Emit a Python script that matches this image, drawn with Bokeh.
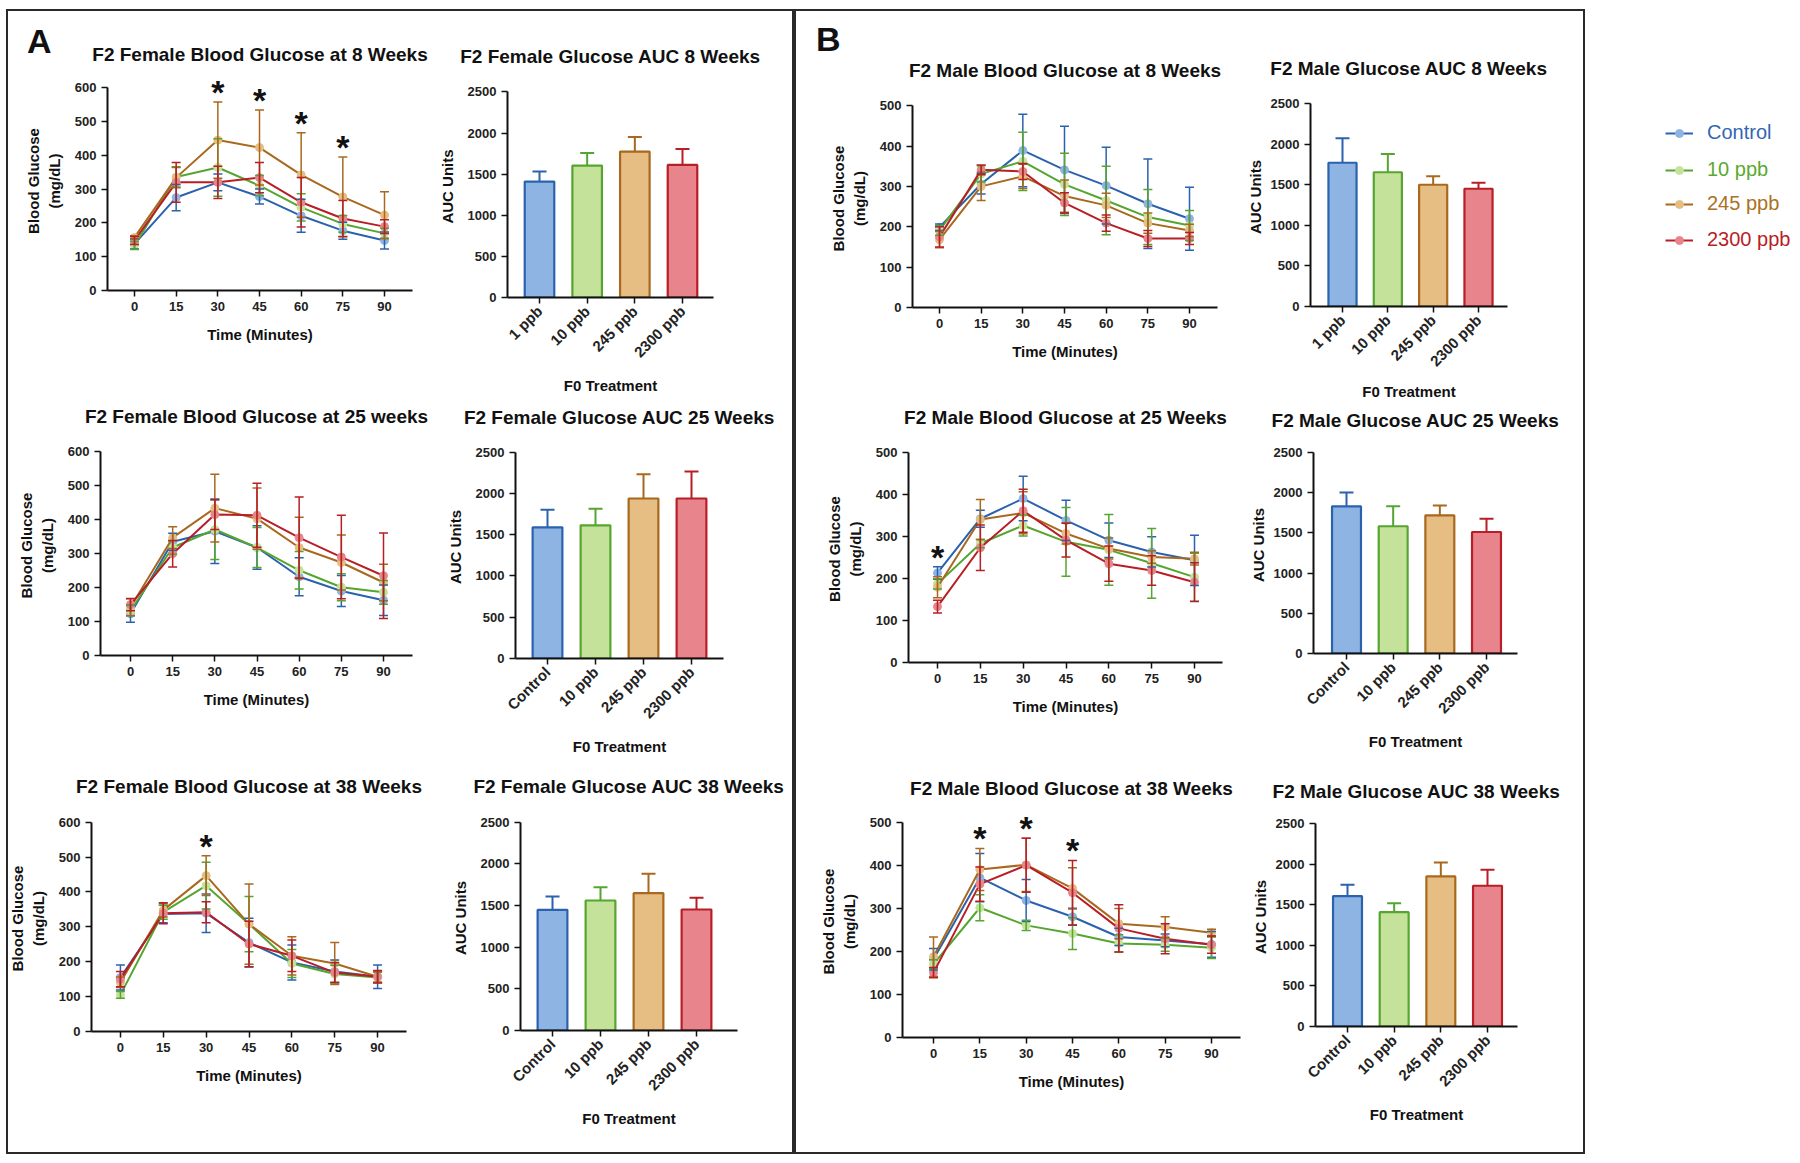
import math
from bokeh.plotting import figure
from bokeh.models import (Range1d, FixedTicker, Whisker, TeeHead, ColumnDataSource,
                          Legend, LegendItem, Spacer, Div)
from bokeh.layouts import row, column
from bokeh.embed import file_html
from bokeh.resources import INLINE
from bokeh.core.properties import value

# ---------------- data ----------------
times = [0, 15, 30, 45, 60, 75, 90]
groups = ["Control", "10 ppb", "245 ppb", "2300 ppb"]
auc_labels_8wk = ["1 ppb", "10 ppb", "245 ppb", "2300 ppb"]
auc_labels = ["Control", "10 ppb", "245 ppb", "2300 ppb"]

# Female, 8 weeks
f8_control = [138, 275, 320, 278, 221, 177, 148]
f8_control_err = [15, 39, 25, 22, 49, 25, 25]
f8_10ppb = [133, 336, 364, 310, 246, 197, 169]
f8_10ppb_err = [12, 30, 85, 30, 40, 25, 15]
f8_245ppb = [157, 334, 445, 423, 342, 277, 223]
f8_245ppb_err = [5, 30, 113, 111, 125, 118, 69]
f8_2300ppb = [148, 320, 320, 334, 261, 213, 189]
f8_2300ppb_err = [12, 59, 48, 45, 73, 53, 20]
f8_sig = [30, 45, 60, 75]

# Female, 25 weeks
f25_control = [123, 335, 366, 318, 232, 190, 163]
f25_control_err = [25, 25, 95, 64, 56, 46, 45]
f25_10ppb = [132, 318, 371, 318, 251, 201, 186]
f25_10ppb_err = [15, 20, 88, 59, 55, 40, 35]
f25_245ppb = [142, 347, 434, 403, 318, 274, 215]
f25_245ppb_err = [25, 32, 100, 90, 89, 81, 54]
f25_2300ppb = [150, 300, 415, 413, 347, 290, 235]
f25_2300ppb_err = [18, 39, 44, 94, 120, 123, 126]
f25_sig = []

# Female, 38 weeks
f38_control = [155, 337, 339, 255, 198, 172, 157]
f38_control_err = [36, 25, 55, 70, 50, 33, 34]
f38_10ppb = [105, 342, 418, 308, 195, 165, 155]
f38_10ppb_err = [10, 20, 67, 79, 40, 25, 15]
f38_245ppb = [141, 348, 447, 308, 217, 195, 157]
f38_245ppb_err = [15, 20, 57, 115, 55, 60, 15]
f38_2300ppb = [150, 339, 342, 251, 217, 169, 157]
f38_2300ppb_err = [22, 30, 30, 65, 45, 28, 18]
f38_sig = [30]

# Male, 8 weeks
m8_control = [199, 306, 389, 341, 302, 257, 220]
m8_control_err = [8, 25, 90, 108, 95, 111, 78]
m8_10ppb = [191, 331, 362, 305, 265, 224, 203]
m8_10ppb_err = [12, 20, 72, 77, 85, 68, 37]
m8_245ppb = [168, 300, 325, 276, 253, 209, 191]
m8_245ppb_err = [20, 35, 30, 40, 30, 25, 15]
m8_2300ppb = [175, 341, 337, 259, 209, 171, 171]
m8_2300ppb_err = [25, 12, 20, 25, 20, 20, 15]
m8_sig = []

# Male, 25 weeks
m25_control = [213, 342, 390, 338, 291, 263, 243]
m25_control_err = [15, 20, 53, 48, 41, 36, 60]
m25_10ppb = [187, 283, 326, 287, 268, 236, 203]
m25_10ppb_err = [12, 10, 25, 82, 84, 83, 57]
m25_245ppb = [179, 340, 356, 307, 271, 251, 247]
m25_245ppb_err = [25, 48, 50, 25, 25, 15, 15]
m25_2300ppb = [133, 273, 361, 291, 235, 219, 191]
m25_2300ppb_err = [15, 54, 51, 40, 42, 35, 46]
m25_sig = [0]

# Male, 38 weeks
m38_control = [182, 372, 319, 281, 234, 226, 217]
m38_control_err = [25, 56, 49, 20, 20, 15, 30]
m38_10ppb = [171, 302, 261, 242, 219, 216, 209]
m38_10ppb_err = [10, 30, 12, 37, 20, 15, 25]
m38_245ppb = [188, 391, 402, 347, 265, 257, 244]
m38_245ppb_err = [46, 49, 62, 48, 35, 24, 8]
m38_2300ppb = [151, 357, 401, 337, 254, 230, 216]
m38_2300ppb_err = [12, 40, 63, 75, 55, 35, 20]
m38_sig = [15, 30, 45]

# AUC bars
auc_f8 = [1410, 1605, 1775, 1613]
auc_f8_err = [122, 153, 178, 194]
auc_f25 = [1588, 1612, 1937, 1937]
auc_f25_err = [213, 201, 294, 326]
auc_f38 = [1448, 1560, 1648, 1452]
auc_f38_err = [160, 160, 232, 140]
auc_m8 = [1772, 1655, 1501, 1452]
auc_m8_err = [303, 226, 105, 73]
auc_m25 = [1831, 1583, 1719, 1512]
auc_m25_err = [173, 248, 124, 165]
auc_m38 = [1608, 1410, 1850, 1735]
auc_m38_err = [140, 111, 173, 198]

# ---------------- style ----------------
FONT = "Liberation Sans"
DARK = ["#2B62AE", "#55A530", "#A8691E", "#B81E26"]
LIGHT = ["#8DB4E2", "#C5E29A", "#E6BD82", "#E8858C"]
LEGEND_TXT = ["#3366B5", "#5AAA2E", "#A97225", "#B81E26"]
AXIS = "#111111"
HEAD = 1.08
TITLE_H = 22


def style_axes(p):
    p.xgrid.visible = False
    p.ygrid.visible = False
    p.outline_line_color = None
    p.background_fill_color = None
    p.border_fill_color = None
    for ax in (p.xaxis[0], p.yaxis[0]):
        ax.axis_line_width = 2
        ax.axis_line_color = AXIS
        ax.major_tick_line_width = 1.5
        ax.major_tick_line_color = AXIS
        ax.major_tick_out = 6
        ax.major_tick_in = 0
        ax.minor_tick_line_color = None
        ax.major_label_text_font = FONT
        ax.major_label_text_font_style = "bold"
        ax.major_label_text_font_size = "13px"
        ax.major_label_text_color = "#222222"
        ax.axis_label_text_font = FONT
        ax.axis_label_text_font_style = "bold"
        ax.axis_label_text_font_size = "15px"
        ax.axis_label_text_color = "#111111"


def set_title(p, text, frame_top, title_center, fig_top):
    p.title.text = text
    p.title.align = "center"
    p.title.text_font = FONT
    p.title.text_font_size = "19px"
    p.title.text_font_style = "bold"
    p.title.text_color = "#111111"
    want = frame_top - title_center - 3
    room = frame_top - fig_top - TITLE_H
    p.title.standoff = max(0, int(round(min(want, room))))


def line_chart(title, means, errs, sig, ymax, box, frame, title_c):
    fx, fy, fw, fh = box
    fl, fr, x0px, x90px, y0px, ytoppx = frame
    ppx = (x90px - x0px) / 90.0
    xs = -(x0px - fl) / ppx
    xe = 90 + (fr - x90px) / ppx
    ppy = (y0px - ytoppx) / float(ymax)
    y_end = ymax * HEAD
    frame_top = y0px - y_end * ppy
    p = figure(width=fw, height=fh, x_range=Range1d(xs, xe), y_range=Range1d(0, y_end),
               output_backend="svg", toolbar_location=None,
               min_border_left=int(round(fl - fx)), min_border_right=int(round(fx + fw - fr)),
               min_border_top=int(round(frame_top - fy)), min_border_bottom=int(round(fy + fh - y0px)))
    style_axes(p)
    set_title(p, title, frame_top, title_c, fy)
    p.xaxis.ticker = FixedTicker(ticks=times)
    p.yaxis.ticker = FixedTicker(ticks=list(range(0, ymax + 1, 100)))
    p.yaxis.bounds = (0, ymax)
    p.xaxis.axis_label = "Time (Minutes)"
    p.yaxis.axis_label = "Blood Glucose\n(mg/dL)"
    p.xaxis.axis_label_standoff = 12
    p.yaxis.axis_label_standoff = 9
    for i in range(4):
        m = means[i]
        e = errs[i]
        src = ColumnDataSource(dict(x=times, lo=[a - b for a, b in zip(m, e)],
                                    hi=[a + b for a, b in zip(m, e)]))
        w = Whisker(base="x", lower="lo", upper="hi", source=src, dimension="height",
                    line_color=DARK[i], line_width=1.5, level="glyph",
                    upper_head=TeeHead(size=9, line_color=DARK[i], line_width=1.5),
                    lower_head=TeeHead(size=9, line_color=DARK[i], line_width=1.5))
        p.add_layout(w)
        p.line(times, m, line_color=DARK[i], line_width=2)
        p.scatter(times, m, size=8, fill_color=LIGHT[i], line_color=LIGHT[i])
    if sig:
        tops = []
        for t in sig:
            k = times.index(t)
            tops.append(max(means[i][k] + errs[i][k] for i in range(4)))
        p.text(x=sig, y=tops, text=["*"] * len(sig), text_font=value(FONT),
               text_font_size="34px", text_font_style="bold", text_color="#111111",
               text_align="center", text_baseline="middle", y_offset=-10)
    return p


def bar_chart(title, labels, vals, errs, box, frame, title_c, ylab_standoff, xlab_standoff=7):
    fx, fy, fw, fh = box
    fl, fr, c0, c3, y0px, ytoppx = frame
    sp = (c3 - c0) / 3.0
    xs = -(c0 - fl) / sp
    xe = 3 + (fr - c3) / sp
    ppy = (y0px - ytoppx) / 2500.0
    y_end = 2500 * HEAD
    frame_top = y0px - y_end * ppy
    p = figure(width=fw, height=fh, x_range=Range1d(xs, xe), y_range=Range1d(0, y_end),
               output_backend="svg", toolbar_location=None,
               min_border_left=int(round(fl - fx)), min_border_right=int(round(fx + fw - fr)),
               min_border_top=int(round(frame_top - fy)), min_border_bottom=int(round(fy + fh - y0px)))
    style_axes(p)
    set_title(p, title, frame_top, title_c, fy)
    xs_c = list(range(len(labels)))
    p.xaxis.ticker = FixedTicker(ticks=xs_c)
    p.xaxis.major_label_overrides = {i: lab for i, lab in enumerate(labels)}
    p.xaxis.major_label_orientation = math.pi / 4
    p.xaxis.major_label_text_font_size = "15px"
    p.yaxis.ticker = FixedTicker(ticks=[0, 500, 1000, 1500, 2000, 2500])
    p.yaxis.bounds = (0, 2500)
    p.xaxis.axis_label = "F0 Treatment"
    p.yaxis.axis_label = "AUC Units"
    p.xaxis.axis_label_standoff = xlab_standoff
    p.yaxis.axis_label_standoff = ylab_standoff
    for i in range(len(labels)):
        src = ColumnDataSource(dict(x=[xs_c[i]], lo=[vals[i]], hi=[vals[i] + errs[i]]))
        w = Whisker(base="x", lower="lo", upper="hi", source=src, dimension="height",
                    line_color=DARK[i], line_width=2, level="underlay",
                    upper_head=TeeHead(size=14, line_color=DARK[i], line_width=2),
                    lower_head=None)
        p.add_layout(w)
    p.vbar(x=xs_c, top=vals, width=0.62, fill_color=LIGHT, line_color=DARK, line_width=2.2)
    return p


def letter_div(txt, left, top):
    return Div(text=txt, styles={"position": "absolute", "left": "%dpx" % left,
                                 "top": "%dpx" % top, "font-family": FONT,
                                 "font-size": "34px", "font-weight": "bold",
                                 "color": "#111111", "line-height": "normal",
                                 "z-index": "5"})


# ---------------- panel A (female) ----------------
la1 = line_chart("F2 Female Blood Glucose at 8 Weeks",
                 [f8_control, f8_10ppb, f8_245ppb, f8_2300ppb],
                 [f8_control_err, f8_10ppb_err, f8_245ppb_err, f8_2300ppb_err],
                 f8_sig, 600, (6, 9, 426, 386), (107, 412, 134, 384, 290, 87), 55)
la2 = line_chart("F2 Female Blood Glucose at 25 weeks",
                 [f25_control, f25_10ppb, f25_245ppb, f25_2300ppb],
                 [f25_control_err, f25_10ppb_err, f25_245ppb_err, f25_2300ppb_err],
                 f25_sig, 600, (6, 395, 426, 369), (100, 412, 130, 383, 655, 450), 413)
la3 = line_chart("F2 Female Blood Glucose at 38 Weeks",
                 [f38_control, f38_10ppb, f38_245ppb, f38_2300ppb],
                 [f38_control_err, f38_10ppb_err, f38_245ppb_err, f38_2300ppb_err],
                 f38_sig, 600, (6, 764, 426, 390), (90, 406, 119, 377, 1031, 822), 784)
ba1 = bar_chart("F2 Female Glucose AUC 8 Weeks", auc_labels_8wk, auc_f8, auc_f8_err,
                (432, 9, 362, 387), (507, 713, 539, 682, 297, 91), 54, 9)
ba2 = bar_chart("F2 Female Glucose AUC 25 Weeks", auc_labels, auc_f25, auc_f25_err,
                (432, 396, 362, 368), (515, 723, 547, 691, 658, 451), 414, 9)
ba3 = bar_chart("F2 Female Glucose AUC 38 Weeks", auc_labels, auc_f38, auc_f38_err,
                (432, 764, 362, 390), (520, 737, 552, 696, 1030, 822), 784, 9)

# ---------------- panel B (male) ----------------
lb1 = line_chart("F2 Male Blood Glucose at 8 Weeks",
                 [m8_control, m8_10ppb, m8_245ppb, m8_2300ppb],
                 [m8_control_err, m8_10ppb_err, m8_245ppb_err, m8_2300ppb_err],
                 m8_sig, 500, (794, 9, 448, 386), (912, 1217, 939, 1189, 307, 105), 68)
lb2 = line_chart("F2 Male Blood Glucose at 25 Weeks",
                 [m25_control, m25_10ppb, m25_245ppb, m25_2300ppb],
                 [m25_control_err, m25_10ppb_err, m25_245ppb_err, m25_2300ppb_err],
                 m25_sig, 500, (794, 395, 448, 370), (908, 1222, 937, 1194, 662, 452), 416)
lb3 = line_chart("F2 Male Blood Glucose at 38 Weeks",
                 [m38_control, m38_10ppb, m38_245ppb, m38_2300ppb],
                 [m38_control_err, m38_10ppb_err, m38_245ppb_err, m38_2300ppb_err],
                 m38_sig, 500, (794, 765, 448, 389), (902, 1240, 933, 1211, 1037, 822), 788)
bb1 = bar_chart("F2 Male Glucose AUC 8 Weeks", auc_labels_8wk, auc_m8, auc_m8_err,
                (1242, 9, 343, 393), (1310, 1507, 1342, 1478, 308, 103), 67, 4, 4)
bb2 = bar_chart("F2 Male Glucose AUC 25 Weeks", auc_labels, auc_m25, auc_m25_err,
                (1242, 402, 343, 363), (1313, 1517, 1346, 1486, 653, 451), 418, 4)
bb3 = bar_chart("F2 Male Glucose AUC 38 Weeks", auc_labels, auc_m38, auc_m38_err,
                (1242, 765, 343, 389), (1315, 1517, 1347, 1487, 1026, 823), 792, 4)

# ---------------- legend ----------------
lg = figure(width=205, height=300, x_range=Range1d(0, 1), y_range=Range1d(0, 1),
            x_axis_type=None, y_axis_type=None, output_backend="svg", toolbar_location=None,
            min_border=0)
lg.xgrid.visible = False
lg.ygrid.visible = False
lg.outline_line_color = None
lg.background_fill_color = None
lg.border_fill_color = None
leg_rows = [132, 169, 203, 239]
for i in range(4):
    rl = lg.line(x=[-5, -4], y=[-5, -5], line_color=DARK[i], line_width=2)
    rs = lg.scatter(x=[-5], y=[-5], size=8, fill_color=LIGHT[i], line_color=LIGHT[i])
    leg = Legend(items=[LegendItem(label=groups[i], renderers=[rl, rs])],
                 location=(80, (309 - leg_rows[i]) - 12),
                 label_text_color=LEGEND_TXT[i], label_text_font=FONT,
                 label_text_font_size="20px", glyph_width=28, glyph_height=20,
                 label_height=20, label_standoff=14, padding=0, margin=0, spacing=0,
                 border_line_color=None, background_fill_alpha=0)
    lg.add_layout(leg)

panel_style = {"outline": "2px solid #2a2a2a", "outline-offset": "-2px", "position": "relative"}
panelA = column(letter_div("A", 16, 8),
                row(column(column(la1), column(la2), column(la3)),
                    column(column(ba1), column(ba2), column(ba3))),
                styles=panel_style)
panelB = column(letter_div("B", 17, 6),
                row(column(column(lb1), column(lb2), column(lb3)),
                    column(column(bb1), column(bb2), column(bb3))),
                styles=panel_style)
root = column(Spacer(height=9), row(Spacer(width=6), panelA, panelB, column(lg)))

open("out.html", "w").write(file_html(root, INLINE))
